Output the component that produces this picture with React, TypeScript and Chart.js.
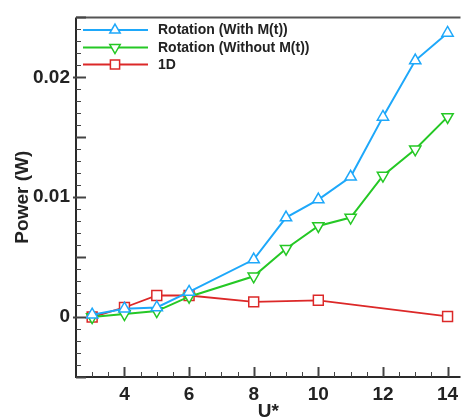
import React, { useEffect, useRef } from "react";
import { Chart, registerables } from "chart.js";
import { drawPoint } from "chart.js/helpers";

Chart.register(...registerables);

const rotX = [3, 4, 5, 6, 8, 9, 10, 11, 12, 13, 14];
const withMt = [0.0002, 0.0007, 0.0008, 0.0021, 0.0048, 0.0083, 0.0098, 0.0117, 0.0167, 0.0214, 0.0237];
const withoutMt = [0, 0.00025, 0.0005, 0.0017, 0.0034, 0.0057, 0.0076, 0.0083, 0.0118, 0.014, 0.0167];
const oneDX = [3, 4, 5, 6, 8, 10, 14];
const oneD = [0, 0.0008, 0.0018, 0.0018, 0.00127, 0.0014, 0.00005];

const xTicks = [4, 6, 8, 10, 12, 14];
const yTicks = [0, 0.01, 0.02];
const yLabels = ["0", "0.01", "0.02"];

const seriesNames = ["Rotation (With M(t))", "Rotation (Without M(t))", "1D"];
const colors = ["#1ea8fa", "#25c825", "#dc2828"];
const FONT = "'Liberation Sans', Arial, sans-serif";

const axisPlugin = {
  id: "tecAxes",
  afterDraw(chart: any) {
    const ctx = chart.ctx;
    const { left, right, top, bottom } = chart.chartArea;
    const xs = chart.scales.x;
    const ys = chart.scales.y;
    ctx.save();
    // border
    ctx.strokeStyle = "#2a2a2a";
    ctx.lineWidth = 2;
    ctx.beginPath();
    ctx.moveTo(left, top);
    ctx.lineTo(left, bottom);
    ctx.lineTo(right, bottom);
    ctx.stroke();
    ctx.strokeStyle = "#555";
    ctx.beginPath();
    ctx.moveTo(left, top);
    ctx.lineTo(right, top);
    ctx.stroke();
    // y ticks inward
    ctx.strokeStyle = "#444";
    for (let i = -5; i <= 25; i++) {
      const y = Math.round(ys.getPixelForValue(i / 1000)) + 0.5;
      const major = i % 5 === 0;
      ctx.lineWidth = major ? 2 : 1;
      ctx.beginPath();
      ctx.moveTo(left - (i % 10 === 0 ? 3 : 0), y);
      ctx.lineTo(left + (major ? 10 : 5), y);
      ctx.stroke();
    }
    // x ticks inward
    for (let i = 6; i <= 28; i++) {
      const v = i / 2;
      const x = Math.round(xs.getPixelForValue(v)) + 0.5;
      const major = i % 4 === 0;
      ctx.lineWidth = major ? 2 : 1;
      ctx.beginPath();
      ctx.moveTo(x, bottom);
      ctx.lineTo(x, bottom - (major ? 10 : 5));
      ctx.stroke();
    }
    // legend
    const rows = [30, 47.5, 64.5];
    const styles = ["triangle", "triangle", "rect"];
    const rots = [0, 180, 0];
    const radii = [6, 6, 6.5];
    for (let k = 0; k < 3; k++) {
      const y = rows[k];
      ctx.strokeStyle = colors[k];
      ctx.lineWidth = 1.8;
      ctx.beginPath();
      ctx.moveTo(83, y);
      ctx.lineTo(148, y);
      ctx.stroke();
      ctx.fillStyle = "#fff";
      ctx.lineWidth = 1.5;
      drawPoint(ctx, { pointStyle: styles[k], rotation: rots[k], radius: radii[k], borderWidth: 1.5 }, 115, y);
      ctx.fillStyle = "#222";
      ctx.font = `bold 14px ${FONT}`;
      ctx.textBaseline = "middle";
      ctx.textAlign = "left";
      ctx.fillText(seriesNames[k], 158, y + 0.5);
    }
    ctx.restore();
  },
};

export default function App() {
  const ref = useRef<HTMLCanvasElement>(null);
  useEffect(() => {
    if (!ref.current) return;
    const mk = (xv: number[], yv: number[]) => xv.map((x, i) => ({ x, y: yv[i] }));
    const chart = new Chart(ref.current, {
      type: "line",
      data: {
        datasets: [
          {
            label: seriesNames[0],
            data: mk(rotX, withMt),
            borderColor: colors[0],
            backgroundColor: "#fff",
            pointBackgroundColor: "#fff",
            pointBorderColor: colors[0],
            pointStyle: "triangle",
            pointRadius: 6.5,
            pointBorderWidth: 1.5,
            borderWidth: 2,
          },
          {
            label: seriesNames[1],
            data: mk(rotX, withoutMt),
            borderColor: colors[1],
            backgroundColor: "#fff",
            pointBackgroundColor: "#fff",
            pointBorderColor: colors[1],
            pointStyle: "triangle",
            pointRotation: 180,
            pointRadius: 6.5,
            pointBorderWidth: 1.5,
            borderWidth: 2,
          },
          {
            label: seriesNames[2],
            data: mk(oneDX, oneD),
            borderColor: colors[2],
            backgroundColor: "#fff",
            pointBackgroundColor: "#fff",
            pointBorderColor: colors[2],
            pointStyle: "rect",
            pointRadius: 7,
            pointBorderWidth: 1.5,
            borderWidth: 1.8,
          },
        ],
      },
      options: {
        animation: false,
        responsive: false,
        layout: { padding: { top: 15, right: 0, left: 0, bottom: 0 } },
        plugins: { legend: { display: false }, tooltip: { enabled: false } },
        scales: {
          x: {
            type: "linear",
            min: 2.5,
            max: 14.4,
            grid: { display: false, drawTicks: false },
            border: { display: false },
            afterBuildTicks: (s: any) => {
              s.ticks = xTicks.map((v) => ({ value: v }));
            },
            afterFit: (s: any) => {
              s.height = 43;
            },
            ticks: {
              autoSkip: false,
              maxRotation: 0,
              padding: 6,
              color: "#222",
              font: { family: FONT, size: 19, weight: "bold" },
              callback: (v: any) => String(v),
            },
            title: {
              display: true,
              text: "U*",
              color: "#222",
              padding: { top: 0, bottom: -3 },
              font: { family: FONT, size: 19, weight: "bold" },
            },
          },
          y: {
            type: "linear",
            min: -0.005,
            max: 0.025,
            grid: { display: false, drawTicks: false },
            border: { display: false },
            afterBuildTicks: (s: any) => {
              s.ticks = yTicks.map((v) => ({ value: v }));
            },
            afterFit: (s: any) => {
              s.width = 76;
            },
            ticks: {
              autoSkip: false,
              padding: 6,
              color: "#222",
              font: { family: FONT, size: 19, weight: "bold" },
              callback: (v: any) => {
                const i = yTicks.findIndex((t) => Math.abs(t - v) < 1e-9);
                return i >= 0 ? yLabels[i] : "";
              },
            },
            title: {
              display: true,
              text: "Power (W)",
              color: "#222",
              padding: { top: 11, bottom: 0 },
              font: { family: FONT, size: 19, weight: "bold" },
            },
          },
        },
      },
      plugins: [axisPlugin],
    } as any);
    return () => chart.destroy();
  }, []);
  return (
    <canvas
      ref={ref}
      width={469}
      height={420}
      style={{ position: "absolute", left: 0, top: 0, width: 469, height: 420 }}
    />
  );
}
